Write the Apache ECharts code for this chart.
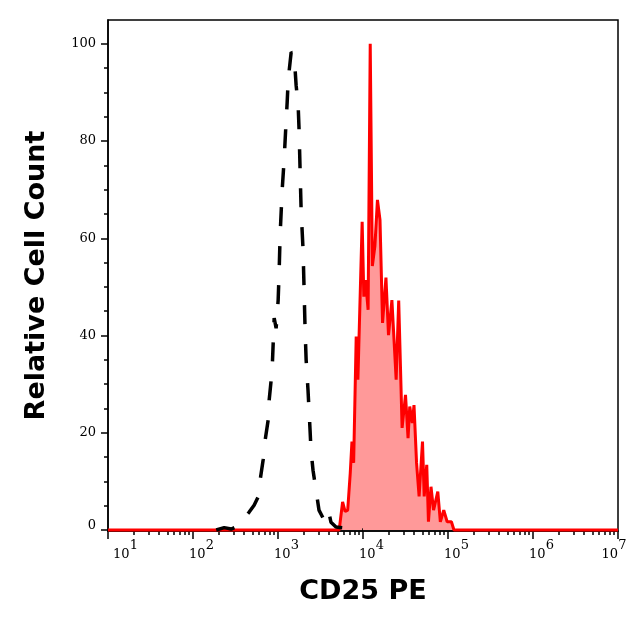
<!DOCTYPE html>
<html>
<head>
<meta charset="utf-8">
<script src="https://cdn.jsdelivr.net/npm/echarts@6.0.0/dist/echarts.min.js"></script>
<style>
html,body{margin:0;padding:0;background:#fff}
#main{width:640px;height:631px}
</style>
</head>
<body>
<div id="main"></div>
<script>
// x positions are log10 of the CD25 PE intensity
var decadeTicks = [1, 2, 3, 4, 5, 6, 7];
var yTicks = [0, 20, 40, 60, 80, 100];
var yMinorTicks = [5, 10, 15, 25, 30, 35, 45, 50, 55, 65, 70, 75, 85, 90, 95];

// isotype control (black dashed)
var isoLog = [2.273, 2.367, 2.449, 2.532, 2.602, 2.661, 2.719, 2.766, 2.790, 2.825, 2.849, 2.884, 2.896, 2.931, 2.955, 2.978, 3.002, 3.014, 3.025, 3.049, 3.072, 3.096, 3.108, 3.120, 3.155, 3.190, 3.213, 3.237, 3.248, 3.260, 3.272, 3.295, 3.307, 3.319, 3.331, 3.353, 3.377, 3.388, 3.412, 3.447, 3.482, 3.529, 3.588, 3.623, 3.682, 3.799, 3.881, 3.999];
var isoCount = [0, 0.5, 0.2, 0.8, 2.5, 3.7, 5.1, 6.8, 10.3, 14.4, 18.5, 22.6, 26.7, 32.9, 43.6, 41.5, 47.3, 53.5, 60.7, 69.9, 76.1, 84.3, 88.0, 92.6, 98.3, 97.7, 91.5, 87.4, 82.3, 74.0, 65.8, 57.6, 49.4, 41.1, 35.0, 28.8, 20.6, 16.5, 12.3, 8.2, 4.1, 2.5, 4.5, 1.6, 0.6, 0.4, 0.2, 0];

// CD25 stained (red filled)
var cd25Log = [1.0, 3.72, 3.74, 3.76, 3.79, 3.82, 3.85, 3.87, 3.89, 3.92, 3.94, 3.99, 4.01, 4.03, 4.06, 4.085, 4.11, 4.14, 4.17, 4.20, 4.23, 4.27, 4.30, 4.34, 4.39, 4.42, 4.46, 4.50, 4.53, 4.55, 4.58, 4.60, 4.63, 4.66, 4.70, 4.72, 4.75, 4.77, 4.80, 4.83, 4.88, 4.91, 4.95, 4.99, 5.04, 5.07, 7.0];
var cd25Count = [0, 0, 0, 5.8, 3.8, 4.1, 11.7, 18.2, 13.8, 39.8, 30.9, 63.4, 48.0, 51.4, 45.3, 100, 54.3, 58.4, 67.9, 63.8, 42.6, 51.9, 40.1, 47.3, 30.9, 47.2, 21.0, 27.8, 18.9, 25.4, 22.0, 25.7, 13.8, 6.9, 18.2, 6.9, 13.4, 1.7, 8.9, 4.1, 7.9, 1.7, 4.1, 1.7, 1.7, 0, 0];

// log spaced minor ticks 2..9 in every decade
var minorX = [];
for (var d = 1; d < 7; d++) {
	for (var k = 2; k <= 9; k++) minorX.push(d + Math.log10(k));
}

var chart = echarts.init(document.getElementById('main'));

var serif = 'DejaVu Serif';
var tickStyle = {color: '#000', width: 1.5};

option = {
	backgroundColor: '#fff',
	animation: false,
	grid: {
		left: 108, right: 22, top: 20, bottom: 100,
		containLabel: false, outerBoundsMode: 'none',
		show: true, borderColor: '#000', borderWidth: 1.5
	},
	xAxis: [{
		type: 'value', min: 1, max: 7, position: 'bottom',
		name: 'CD25 PE', nameLocation: 'middle', nameGap: 47,
		nameTextStyle: {fontFamily: 'DejaVu Sans', fontWeight: 'bold', fontSize: 27, color: '#000'},
		axisLine: {show: true, onZero: false, lineStyle: {color: '#000', width: 1.5}},
		axisTick: {show: true, customValues: decadeTicks, length: 8, lineStyle: tickStyle},
		axisLabel: {
			customValues: decadeTicks, margin: 8,
			formatter: function (v) {
				var e = Math.round(v);
				if (e === 1) return '{p1|10}{s|' + e + '}';
				if (e === 7) return '{b|10}{s7|' + e + '}';
				return '{b|10}{s|' + e + '}';
			},
			rich: {
				b: {fontFamily: serif, fontSize: 13, color: '#000', verticalAlign: 'bottom', padding: [0, 0, 0, 17]},
				p1: {fontFamily: serif, fontSize: 13, color: '#000', verticalAlign: 'bottom', padding: [0, 0, 0, 35]},
				s: {fontFamily: serif, fontSize: 13, color: '#000', verticalAlign: 'bottom', padding: [0, 0, 9, 0]},
				s7: {fontFamily: serif, fontSize: 13, color: '#000', verticalAlign: 'bottom', padding: [0, 25, 9, 0]}
			}
		},
		splitLine: {show: false}
	}, {
		type: 'value', min: 1, max: 7, position: 'bottom',
		axisLine: {show: false, onZero: false},
		axisTick: {show: true, customValues: minorX, length: 4, lineStyle: tickStyle},
		axisLabel: {show: false},
		splitLine: {show: false}
	}],
	yAxis: [{
		type: 'value', min: -0.2, max: 104.9, position: 'left',
		name: 'Relative Cell Count', nameLocation: 'middle', nameGap: 58,
		nameTextStyle: {fontFamily: 'DejaVu Sans', fontWeight: 'bold', fontSize: 27, color: '#000'},
		axisLine: {show: true, onZero: false, lineStyle: {color: '#000', width: 1.5}},
		axisTick: {show: true, customValues: yTicks, length: 7, lineStyle: tickStyle},
		axisLabel: {
			customValues: yTicks, margin: 12,
			formatter: function (v) {
				return v === 0 ? '{z|0}' : '{n|' + v + '}';
			},
			rich: {
				n: {fontFamily: serif, fontSize: 13, color: '#000'},
				z: {fontFamily: serif, fontSize: 13, color: '#000', padding: [0, 0, 8, 0]}
			}
		},
		splitLine: {show: false}
	}, {
		type: 'value', min: -0.2, max: 104.9, position: 'left',
		axisLine: {show: false, onZero: false},
		axisTick: {show: true, customValues: yMinorTicks, length: 4, lineStyle: tickStyle},
		axisLabel: {show: false},
		splitLine: {show: false}
	}],
	series: [{
		type: 'line',
		data: cd25Log.map(function (x, i) { return [x, cd25Count[i]]; }),
		symbol: 'none',
		clip: false,
		lineStyle: {color: '#ff0000', width: 3},
		areaStyle: {color: 'rgba(255,0,0,0.4)', opacity: 1},
		z: 2
	}, {
		type: 'line',
		data: isoLog.map(function (x, i) { return [x, isoCount[i]]; }),
		symbol: 'none',
		lineStyle: {color: '#000', width: 3.5, type: [19, 20]},
		z: 3
	}]
};
chart.setOption(option);
</script>
</body>
</html>
